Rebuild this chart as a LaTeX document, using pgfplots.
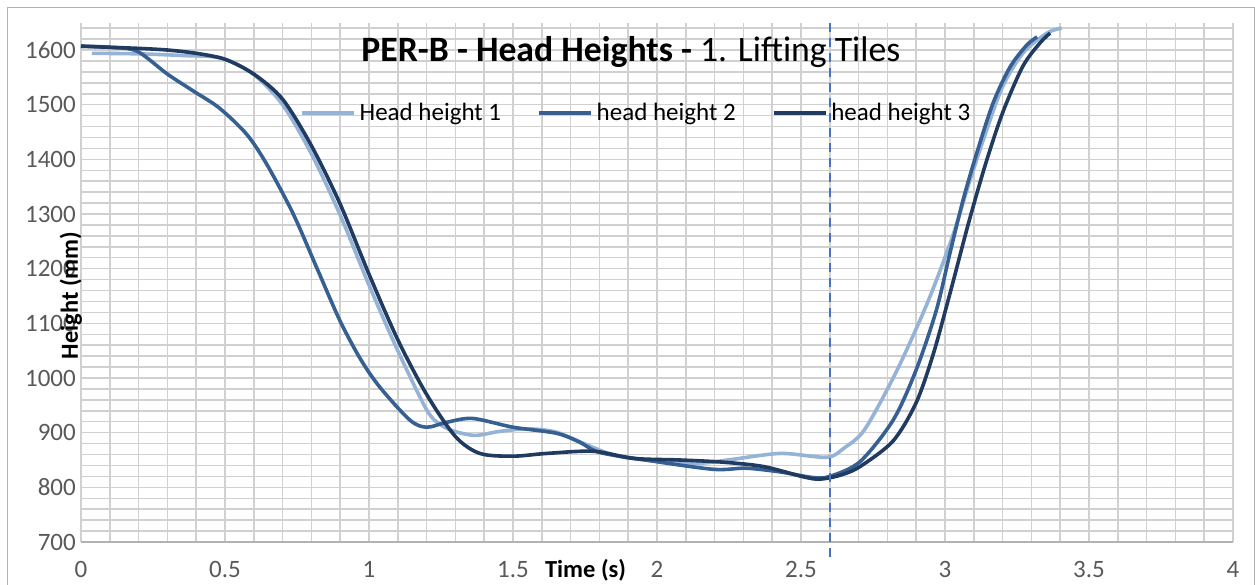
\documentclass[border=0pt]{standalone}
\usepackage{pgfplots}
\pgfplotsset{compat=1.18}
\usepackage{fontspec}
\setmainfont{Carlito}

\definecolor{hhone}{HTML}{95B3D7}
\definecolor{hhtwo}{HTML}{376092}
\definecolor{hhthree}{HTML}{203A60}
\definecolor{gridgray}{HTML}{D0D0D0}
\definecolor{ticktext}{HTML}{595959}
\definecolor{markblue}{HTML}{4472C4}

% tick labels came out smaller than the size asked for, so ask for more
\newcommand{\tickfont}{\fontsize{25}{29}\selectfont}

\begin{document}
\begin{tikzpicture}[x=1pt,y=1pt]
  % picture is 1255 x 585 (pt used as px), plot area starts at (0,0)
  \useasboundingbox (-81,-43) rectangle (1174,542);
  \draw[color=gray!60, line width=1pt] (-73,-80) rectangle (1173,534);
  \begin{axis}[
      scale only axis,
      width=1152pt, height=519.3pt,
      xmin=0, xmax=4,
      ymin=700, ymax=1650,
      xtick distance=0.5, minor x tick num=4,
      ytick distance=100, minor y tick num=4,
      grid=both,
      major grid style={color=gridgray, line width=1.5pt},
      minor grid style={color=gridgray, line width=1.5pt},
      major tick length=0pt, minor tick length=0pt,
      axis x line*=bottom, axis y line*=left,
      x axis line style={color=gray!60, line width=1.5pt},
      y axis line style={draw=none},
      xticklabel={\pgfmathprintnumber[assume math mode=true]{\tick}},
      yticklabel={\pgfmathprintnumber[assume math mode=true,1000 sep={}]{\tick}},
      xticklabel style={font=\tickfont, text=ticktext, anchor=base, yshift=-36pt},
      yticklabel style={font=\tickfont, text=ticktext, inner sep=5pt},
      clip=false,
      legend columns=3,
      legend style={draw=none, fill=none, inner sep=0pt,
        at={(rel axis cs:0.19,0.826)}, anchor=west,
        font=\fontsize{25}{28}\selectfont,
        /tikz/every even column/.append style={column sep=34pt},
        /tikz/every odd column/.append style={column sep=2pt}},
      legend image code/.code={\draw[#1] (0pt,0pt) -- (52pt,0pt);},
      every axis plot/.append style={line width=3.6pt, smooth, tension=0.5},
  ]

  \addplot[color=hhone] coordinates {
    (0.038,1594) (0.2,1593) (0.35,1590) (0.49,1585) (0.6,1555)
    (0.7,1500) (0.8,1410) (0.9,1298) (1.0,1170) (1.1,1050)
    (1.2,942) (1.25,914) (1.3,902) (1.37,895) (1.45,902)
    (1.55,907) (1.65,901) (1.76,877) (1.85,859) (1.96,850)
    (2.14,844) (2.26,851) (2.43,862) (2.59,855) (2.65,872)
    (2.72,905) (2.82,1000) (2.90,1090) (2.96,1165) (3.03,1265)
    (3.087,1362) (3.145,1454) (3.20,1533) (3.27,1594) (3.354,1631)
    (3.405,1640)
  };
  \addlegendentry{Head height 1}

  \addplot[color=hhtwo] coordinates {
    (0,1607) (0.1,1605) (0.194,1598) (0.30,1556) (0.39,1525)
    (0.48,1494) (0.575,1446) (0.645,1391) (0.737,1300) (0.82,1200)
    (0.899,1105) (0.97,1035) (1.038,983) (1.142,923) (1.20,910)
    (1.27,919) (1.36,926) (1.50,910) (1.65,899) (1.73,883)
    (1.80,864) (1.96,850) (2.195,833) (2.31,835) (2.43,828)
    (2.54,818) (2.60,820) (2.705,847) (2.82,923) (2.90,1015)
    (2.97,1124) (3.017,1228) (3.063,1326) (3.11,1411) (3.167,1503)
    (3.226,1569) (3.284,1609) (3.32,1624)
  };
  \addlegendentry{head height 2}

  \addplot[color=hhthree] coordinates {
    (0,1607) (0.1,1605) (0.2,1603) (0.3,1600) (0.4,1594)
    (0.5,1583) (0.6,1556) (0.7,1510) (0.8,1425) (0.9,1318)
    (1.0,1190) (1.1,1070) (1.2,970) (1.3,893) (1.385,862)
    (1.50,857) (1.617,862) (1.78,866) (1.917,853) (2.08,850)
    (2.23,846) (2.37,838) (2.51,819) (2.566,815) (2.635,822)
    (2.705,838) (2.82,885) (2.90,955) (2.96,1045) (3.02,1160)
    (3.08,1280) (3.14,1390) (3.20,1485) (3.27,1570) (3.33,1613)
    (3.365,1631)
  };
  \addlegendentry{head height 3}

  \addplot[forget plot, color=markblue, line width=2.5pt, sharp plot,
    dash pattern=on 9pt off 6pt] coordinates {(2.6,1650) (2.6,667)};

  \node[font=\fontsize{35.7}{40}\selectfont, anchor=base]
    at (rel axis cs:0.4774,0.926)
    {\textbf{PER-B - Head Heights -} 1. Lifting Tiles};
  \node[font=\bfseries\fontsize{24.5}{28}\selectfont, anchor=base]
    at (rel axis cs:0.438,0) [yshift=-36pt] {Time (s)};
  \node[font=\bfseries\fontsize{24.5}{28}\selectfont, rotate=90, anchor=base]
    at (rel axis cs:0,0.475) [yshift=3pt] {Height (mm)};
  \end{axis}
\end{tikzpicture}
\end{document}
